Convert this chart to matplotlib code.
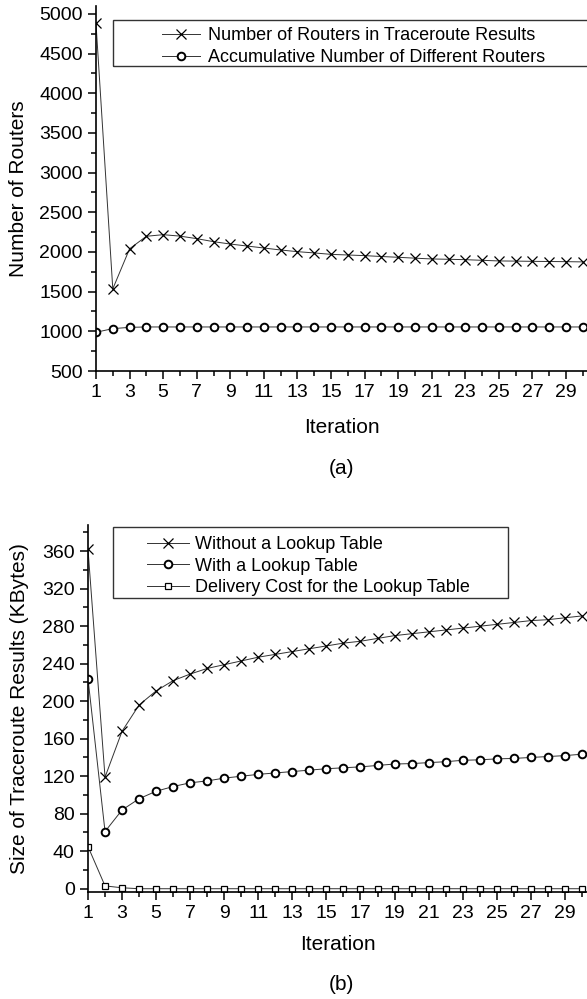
import matplotlib
matplotlib.use("Agg")
import matplotlib.pyplot as plt
from matplotlib.patches import Rectangle
from matplotlib.ticker import MultipleLocator, FixedLocator

plt.rcParams['font.family'] = ['Liberation Sans', 'DejaVu Sans']

# ---- data ----
iteration = list(range(1, 31))
x_ticks = list(range(1, 31, 2))

routers_in_results = [4880, 1535, 2040, 2198, 2218, 2200, 2168, 2130, 2100, 2075,
                      2050, 2025, 2004, 1988, 1970, 1962, 1954, 1943, 1933, 1922,
                      1912, 1908, 1903, 1895, 1887, 1885, 1882, 1880, 1878, 1875]
routers_accum = [988, 1034, 1050, 1055, 1055, 1055, 1055, 1055, 1055, 1055,
                 1055, 1055, 1055, 1055, 1055, 1055, 1055, 1055, 1055, 1055,
                 1055, 1055, 1055, 1055, 1055, 1055, 1055, 1055, 1055, 1055]

size_without = [362, 119, 168, 196, 211, 222, 229, 235, 239, 243,
                247, 250, 253, 256, 259, 262, 264, 267, 270, 272,
                274, 276, 278, 280, 282, 284, 286, 287, 289, 291]
size_with = [224, 61, 84, 96, 104, 109, 113, 115, 118, 120,
             122, 123.5, 125, 126.5, 128, 129, 130, 131.5, 133, 133.5,
             134.5, 135.5, 137, 137.5, 138.5, 139, 140, 141, 142, 143.5]
delivery_cost = [45, 3, 1, 0, 0, 0, 0, 0, 0, 0,
                 0, 0, 0, 0, 0, 0, 0, 0, 0, 0,
                 0, 0, 0, 0, 0, 0, 0, 0, 0, 0]

labels_a = ["Number of Routers in Traceroute Results",
            "Accumulative Number of Different Routers"]
labels_b = ["Without a Lookup Table", "With a Lookup Table",
            "Delivery Cost for the Lookup Table"]

W, H = 587, 999
fig = plt.figure(figsize=(W / 100, H / 100), dpi=100)


def fx(x):
    return x / W


def fy(y):
    return 1 - y / H


FS = 13
TICK_FS = 14
LABEL_FS = 15
line_kw = dict(color="#333333", lw=0.7)
x_kw = dict(marker="x", ms=7, mec="black", mew=0.9)
o_kw = dict(marker="o", ms=5.5, mfc="white", mec="black", mew=1.4)
s_kw = dict(marker="s", ms=5, mfc="white", mec="black", mew=0.9)


def style_axes(ax):
    for side in ("top", "right"):
        ax.spines[side].set_visible(False)
    for side in ("left", "bottom"):
        ax.spines[side].set_linewidth(1.2)
    ax.xaxis.set_major_locator(FixedLocator(x_ticks))
    ax.xaxis.set_minor_locator(MultipleLocator(1))
    ax.tick_params(which="major", direction="out", length=6, width=1.1, labelsize=TICK_FS)
    ax.tick_params(which="minor", direction="out", length=3.5, width=1.1)
    ax.set_xlabel("Iteration", fontsize=LABEL_FS)


# ---- (a) ----
left_a = 96
ax1 = fig.add_axes([fx(left_a), fy(371), 1 - fx(left_a), fy(6) - fy(371)])
ax1.plot(iteration, routers_in_results, label=labels_a[0], **line_kw, **x_kw)
ax1.plot(iteration, routers_accum, label=labels_a[1], **line_kw, **o_kw)
ax1.set_xlim(1, 30.25)
ax1.set_ylim(500, 5100)
ax1.yaxis.set_major_locator(MultipleLocator(500))
ax1.yaxis.set_minor_locator(MultipleLocator(250))
style_axes(ax1)
ax1.set_ylabel("Number of Routers", fontsize=LABEL_FS)
ax1.yaxis.set_label_coords((28 - left_a) / (W - left_a), 0.5)
ax1.xaxis.labelpad = 12
fig.add_artist(Rectangle((fx(113), fy(66)), fx(600) - fx(113), fy(20) - fy(66),
                         transform=fig.transFigure, fill=False, lw=1.0, ec="#333333"))
ax1.legend(loc="upper left", bbox_to_anchor=(fx(153), fy(18)),
           bbox_transform=fig.transFigure, frameon=False, fontsize=FS,
           borderpad=0, handlelength=2.1, handletextpad=0.45, labelspacing=0.3)
fig.text(fx(341), fy(468), "(a)", ha="center", va="center", fontsize=LABEL_FS)

# ---- (b) ----
left_b = 88
ax2 = fig.add_axes([fx(left_b), fy(892), 1 - fx(left_b), fy(525) - fy(892)])
ax2.plot(iteration, size_without, label=labels_b[0], **line_kw, **x_kw)
ax2.plot(iteration, size_with, label=labels_b[1], **line_kw, **o_kw)
ax2.plot(iteration, delivery_cost, label=labels_b[2], **line_kw, **s_kw)
ax2.set_xlim(1, 30.3)
ax2.set_ylim(-3.5, 388)
ax2.yaxis.set_major_locator(MultipleLocator(40))
ax2.yaxis.set_minor_locator(MultipleLocator(20))
style_axes(ax2)
ax2.set_ylabel("Size of Traceroute Results (KBytes)", fontsize=LABEL_FS)
ax2.yaxis.set_label_coords((29 - left_b) / (W - left_b), 0.5)
ax2.xaxis.labelpad = 9
fig.add_artist(Rectangle((fx(113), fy(598)), fx(508) - fx(113), fy(527) - fy(598),
                         transform=fig.transFigure, fill=False, lw=1.0, ec="#333333"))
ax2.legend(loc="upper left", bbox_to_anchor=(fx(138), fy(527)),
           bbox_transform=fig.transFigure, frameon=False, fontsize=FS,
           borderpad=0, handlelength=2.3, handletextpad=0.35, labelspacing=0.25)
fig.text(fx(341), fy(985), "(b)", ha="center", va="center", fontsize=LABEL_FS)

fig.savefig("out.png", dpi=100)
